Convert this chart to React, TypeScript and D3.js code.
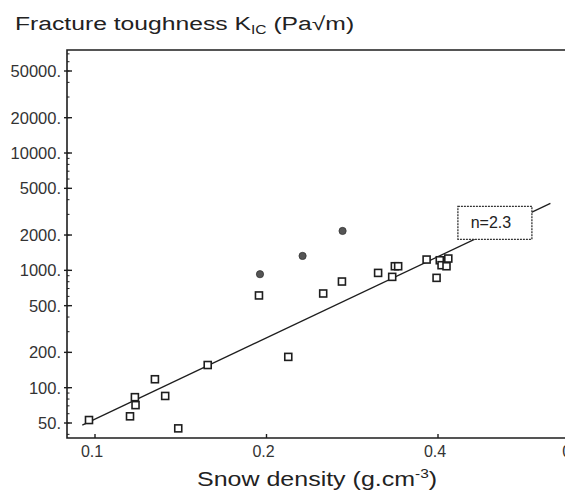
import { useEffect, useRef } from 'react';
import * as d3 from 'd3';

// open squares: snow density (g/cm3) vs fracture toughness K_IC (Pa√m)
const densityOpen = [
    0.0976, 0.1152, 0.1178, 0.1175, 0.1274, 0.1328, 0.14, 0.1577, 0.194, 0.2184, 0.2515,
    0.2713, 0.314, 0.3324, 0.336, 0.3405, 0.382, 0.3977, 0.4029, 0.4058, 0.414, 0.417,
];
const toughnessOpen = [
    53, 57, 71, 83, 118, 85, 45, 156, 611, 183, 635,
    803, 951, 880, 1084, 1084, 1236, 863, 1219, 1106, 1084, 1261,
];

// filled dots
const densityFilled = [0.1948, 0.2314, 0.272];
const toughnessFilled = [927, 1327, 2166];

// power-law fit, end points
const fitDensity = [0.095, 0.63];
const fitToughness = [48, 3720];
const fitLabel = 'n=2.3';
const fitLabelAt = [0.4335, 3515]; // top-left of the label box (data units)

const xTicks = [0.1, 0.2, 0.4, 0.7];
const yTicks = [50, 100, 200, 500, 1000, 2000, 5000, 10000, 20000, 50000];

export default function App() {
    const ref = useRef<SVGSVGElement | null>(null);

    useEffect(() => {
        const width = 565;
        const height = 491;
        const left = 67;
        const top = 50;
        const bottom = 438;
        const font = '"Liberation Sans", Arial, sans-serif';
        const ink = '#1e1e1e';

        const svg = d3.select(ref.current);
        svg.selectAll('*').remove();
        svg.attr('width', width).attr('height', height).attr('viewBox', `0 0 ${width} ${height}`);

        svg.append('rect').attr('width', width).attr('height', height).attr('fill', '#fff');

        const x = d3.scaleLog().domain([0.1, 0.4]).range([95, 438]);
        const y = d3.scaleLog().domain([50, 50000]).range([423, 71]);

        // === Frame (left, bottom, top) ===
        svg.append('path')
            .attr('d', `M${width},${top}H${left}V${bottom}H${width}`)
            .attr('fill', 'none')
            .attr('stroke', ink)
            .attr('stroke-width', 1.6);

        // === Y axis: minor + major ticks ===
        const [yLo, yHi] = [y.invert(bottom), y.invert(top)];
        const minor: number[] = [];
        for (let dec = 10; dec <= 100000; dec *= 10) {
            for (let m = 1; m < 10; m++) {
                const v = dec * m;
                if (v > yLo && v < yHi) minor.push(v);
            }
        }
        svg.append('g')
            .selectAll('line')
            .data(minor)
            .enter()
            .append('line')
            .attr('x1', left)
            .attr('x2', left + 2.5)
            .attr('y1', (d) => y(d))
            .attr('y2', (d) => y(d))
            .attr('stroke', ink)
            .attr('stroke-width', 1);

        const yt = svg.append('g');
        yt.selectAll('line')
            .data(yTicks)
            .enter()
            .append('line')
            .attr('x1', left - 3)
            .attr('x2', left + 5)
            .attr('y1', (d) => y(d))
            .attr('y2', (d) => y(d))
            .attr('stroke', ink)
            .attr('stroke-width', 1.4);
        yt.selectAll('text')
            .data(yTicks)
            .enter()
            .append('text')
            .attr('x', left - 6)
            .attr('y', (d) => y(d) + 6)
            .attr('text-anchor', 'end')
            .attr('font-family', font)
            .attr('font-size', '16.5px')
            .attr('fill', '#333')
            .text((d) => `${d}.`);

        // === X axis ticks ===
        const xt = svg.append('g');
        xt.selectAll('line')
            .data(xTicks)
            .enter()
            .append('line')
            .attr('x1', (d) => x(d))
            .attr('x2', (d) => x(d))
            .attr('y1', bottom)
            .attr('y2', bottom - 4)
            .attr('stroke', ink)
            .attr('stroke-width', 1.4);
        xt.selectAll('text')
            .data(xTicks)
            .enter()
            .append('text')
            .attr('x', (d) => x(d) - 3)
            .attr('y', 457)
            .attr('text-anchor', 'middle')
            .attr('font-family', font)
            .attr('font-size', '16px')
            .attr('fill', '#333')
            .text((d) => d.toFixed(1));

        // === Fit line ===
        svg.append('line')
            .attr('x1', x(fitDensity[0]))
            .attr('y1', y(fitToughness[0]))
            .attr('x2', x(fitDensity[1]))
            .attr('y2', y(fitToughness[1]))
            .attr('stroke', ink)
            .attr('stroke-width', 1.3);

        // label box over the line
        const bx = x(fitLabelAt[0]);
        const by = y(fitLabelAt[1]);
        svg.append('rect')
            .attr('x', bx)
            .attr('y', by)
            .attr('width', 74)
            .attr('height', 33)
            .attr('fill', '#fff')
            .attr('stroke', '#333')
            .attr('stroke-width', 1.3)
            .attr('stroke-dasharray', '2,1');
        svg.append('text')
            .attr('x', bx + 33)
            .attr('y', by + 22)
            .attr('text-anchor', 'middle')
            .attr('font-family', font)
            .attr('font-size', '16px')
            .attr('fill', '#222')
            .text(fitLabel);

        // === Points ===
        const s = 7;
        svg.append('g')
            .selectAll('rect')
            .data(densityOpen.map((d, i) => [d, toughnessOpen[i]]))
            .enter()
            .append('rect')
            .attr('x', (d) => x(d[0]) - s / 2)
            .attr('y', (d) => y(d[1]) - s / 2)
            .attr('width', s)
            .attr('height', s)
            .attr('fill', '#fff')
            .attr('stroke', ink)
            .attr('stroke-width', 1.6);

        svg.append('g')
            .selectAll('circle')
            .data(densityFilled.map((d, i) => [d, toughnessFilled[i]]))
            .enter()
            .append('circle')
            .attr('cx', (d) => x(d[0]))
            .attr('cy', (d) => y(d[1]))
            .attr('r', 3.6)
            .attr('fill', '#555')
            .attr('stroke', '#333')
            .attr('stroke-width', 0.8);

        // === Axis titles (scan is stretched horizontally) ===
        const title = svg.append('text')
            .attr('transform', 'translate(15,30) scale(1.3,1)')
            .attr('font-family', font)
            .attr('font-size', '19px')
            .attr('fill', '#222');
        title.append('tspan').text('Fracture toughness K');
        title.append('tspan').attr('font-size', '12px').attr('dy', 4).text('IC');
        title.append('tspan').attr('dy', -4).text(' (Pa√m)');

        const xl = svg.append('text')
            .attr('transform', 'translate(197,486) scale(1.19,1)')
            .attr('font-family', font)
            .attr('font-size', '21px')
            .attr('fill', '#222');
        xl.append('tspan').text('Snow density (g.cm');
        xl.append('tspan').attr('font-size', '13px').attr('dy', -8).text('-3');
        xl.append('tspan').attr('dy', 8).text(')');
    }, []);

    return (
        <svg
            ref={ref}
            width={565}
            height={491}
            style={{ position: 'absolute', left: 0, top: 0, display: 'block' }}
        />
    );
}
